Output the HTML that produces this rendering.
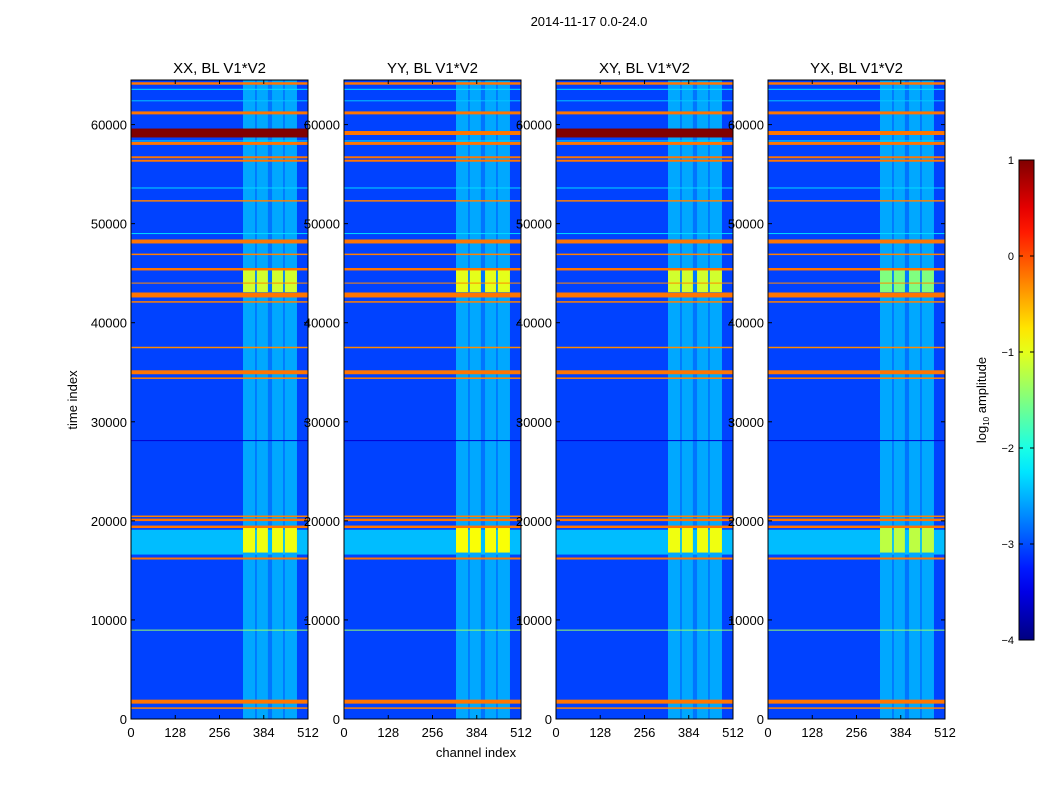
<!DOCTYPE html>
<html><head><meta charset="utf-8"><style>
html,body{margin:0;padding:0;background:#fff;}
svg{display:block;font-family:"Liberation Sans",sans-serif;}
</style></head><body>
<svg id="fig" width="1050" height="800" viewBox="0 0 1050 800">
<text x="589" y="26" font-size="13" text-anchor="middle">2014-11-17 0.0-24.0</text>
<text x="476" y="757" font-size="13" text-anchor="middle">channel index</text>
<text transform="translate(77,400) rotate(-90)" font-size="13" text-anchor="middle">time index</text>
<g id="panels"></g>
<g id="cbar"></g>
</svg>
<script>
const panelTitles = ["XX, BL V1*V2","YY, BL V1*V2","XY, BL V1*V2","YX, BL V1*V2"];
const xTicks = [0,128,256,384,512];
const yTicks = [0,10000,20000,30000,40000,50000,60000];
const cbTicks = [1,0,-1,-2,-3,-4];
const backgroundLevel = -3.05;
// vertical bright channel stripes [startChannel, endChannel]
const stripeStart = [324,364,408,445];
const stripeEnd = [359,396,440,480];
const stripeLevel = -2.55;
const stripeGapLevel = -2.8;
// horizontal bands: time centre, time thickness, level
const bandTimes = [64150,63560,62400,61180,59150,58350,58100,56700,56350,53600,52300,49000,48200,46900,45400,44000,42800,42100,37500,35000,34400,28100,20460,20100,19400,16200,8970,1750,1100];
const bandWidths = [250,100,100,300,900,100,300,200,200,100,150,100,400,150,250,100,500,150,150,400,150,80,150,250,250,200,100,400,150];
const bandLevels = [-0.2,-2.3,-2.4,-0.2,1,-2.3,-0.2,-0.2,-0.2,-2.3,-0.25,-2.3,-0.2,-0.25,-0.2,-0.3,-0.2,-0.25,-0.3,-0.2,-0.25,-3.6,-0.25,-0.2,-0.2,-0.2,-1.4,-0.2,-0.25];
const darkBandLevel = [1,-0.2,1,-0.2];
// broad light band
const broadBandStart = 16600, broadBandEnd = 19100, broadBandLevel = -2.45;
// yellow blocks in stripes
const blockStart = [43100,16800];
const blockEnd = [45400,19300];
const blockLevelA = [-1.1,-1.0,-1.1,-1.5];
const blockLevelB = [-0.95,-0.9,-0.95,-1.2];

const NS="http://www.w3.org/2000/svg";
function jet(v){const x=Math.max(0,Math.min(1,(v+4)/5));
 const c=t=>Math.round(255*Math.max(0,Math.min(1,1.5-Math.abs(t))));
 return `rgb(${c(4*x-3)},${c(4*x-2)},${c(4*x-1)})`;}
function mk(tag,attrs,parent){const e=document.createElementNS(NS,tag);for(const k in attrs)e.setAttribute(k,attrs[k]);parent.appendChild(e);return e;}
const panelX=[131,344,556,768], PW=177, PT=80, PB=719, TMAX=64500;
const sx=(x0,c)=>x0+c/512*PW;
const sy=t=>PB-t/TMAX*(PB-PT);
const root=document.getElementById('panels');
panelX.forEach((x0,p)=>{
 const g=mk('g',{},root);
 
 
 const bg=mk('rect',{x:x0,y:PT,width:PW,height:PB-PT,fill:jet(backgroundLevel)},g);
 
 
 const gp=mk('rect',{x:sx(x0,stripeStart[0]),y:PT,width:sx(x0,stripeEnd[3])-sx(x0,stripeStart[0]),height:PB-PT,fill:jet(stripeGapLevel)},g);
 
 
 const bb=mk('rect',{x:x0,y:sy(broadBandEnd),width:PW,height:sy(broadBandStart)-sy(broadBandEnd),fill:jet(broadBandLevel)},g);
 
 
 stripeStart.forEach((s,i)=>{
  const r=mk('rect',{x:sx(x0,s),y:PT,width:sx(x0,stripeEnd[i])-sx(x0,s),height:PB-PT,fill:jet(stripeLevel)},g);
  
  
  blockStart.forEach((b,j)=>{
   const lv=j===0?blockLevelA[p]:blockLevelB[p];
   const q=mk('rect',{x:sx(x0,s),y:sy(blockEnd[j]),width:sx(x0,stripeEnd[i])-sx(x0,s),height:sy(b)-sy(blockEnd[j]),fill:jet(lv)},g);
   
   
  });
 });
 bandTimes.forEach((t,i)=>{
  const lv=i===4?darkBandLevel[p]:bandLevels[i];
  const w=i===4&&darkBandLevel[p]<1?400:bandWidths[i];
  const h=Math.max(1,w/TMAX*(PB-PT));
  const r=mk('rect',{x:x0,y:sy(t)-h/2,width:PW,height:h,fill:jet(lv)},g);
  
  
 });
 mk('rect',{x:x0,y:PT,width:PW,height:PB-PT,fill:'none',stroke:'#000','stroke-width':1},g);
 const tt=mk('text',{x:x0+PW/2,y:73,'font-size':15,'text-anchor':'middle'},g);
 tt.textContent=panelTitles[p];
 
 
 xTicks.forEach(v=>{
  const X=sx(x0,v);
  mk('line',{x1:X,x2:X,y1:PB,y2:PB-4,stroke:'#000'},g);
  mk('line',{x1:X,x2:X,y1:PT,y2:PT+4,stroke:'#000'},g);
  const t=mk('text',{x:X,y:737,'font-size':13,'text-anchor':'middle'},g);
  t.textContent=v;
  
  
 });
 yTicks.forEach(v=>{
  const Y=sy(v);
  mk('line',{x1:x0,x2:x0+4,y1:Y,y2:Y,stroke:'#000'},g);
  mk('line',{x1:x0+PW,x2:x0+PW-4,y1:Y,y2:Y,stroke:'#000'},g);
  const t=mk('text',{x:x0-4,y:Y+5,'font-size':13,'text-anchor':'end'},g);
  t.textContent=v;
  
  
 });
});
// colorbar
const cb=document.getElementById('cbar');
const CX=1019,CW=15,CT=160,CB=640;
const defs=mk('defs',{},cb);
const lg=mk('linearGradient',{id:'jetg',x1:0,y1:1,x2:0,y2:0},defs);
for(let i=0;i<=20;i++){mk('stop',{offset:i/20,'stop-color':jet(-4+5*i/20)},lg);}
const cr=mk('rect',{x:CX,y:CT,width:CW,height:CB-CT,fill:'url(#jetg)',stroke:'#000'},cb);


cbTicks.forEach(v=>{
 const Y=CB-(v+4)/5*(CB-CT);
 mk('line',{x1:CX,x2:CX+4,y1:Y,y2:Y,stroke:'#000'},cb);
 mk('line',{x1:CX+CW,x2:CX+CW-4,y1:Y,y2:Y,stroke:'#000'},cb);
 const t=mk('text',{x:CX-5,y:Y+4,'font-size':11,'text-anchor':'end'},cb);
 t.textContent=v<0?'\u2212'+Math.abs(v):String(v);
 
 
});
const cl=mk('text',{transform:'translate(986,400) rotate(-90)','font-size':13,'text-anchor':'middle'},cb);
cl.innerHTML='log<tspan font-size="8" dy="3">10</tspan><tspan dy="-3"> amplitude</tspan>';


</script>
</body></html>
